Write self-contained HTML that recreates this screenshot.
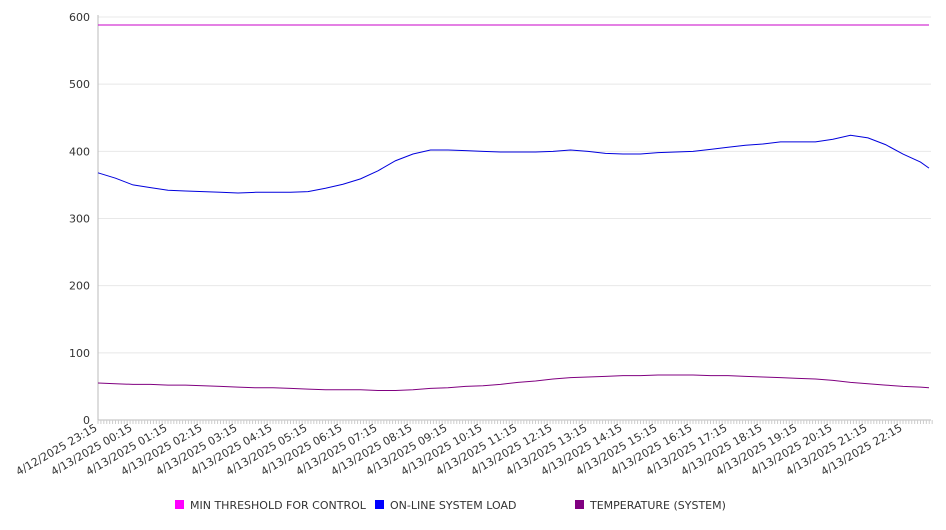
<!DOCTYPE html>
<html><head><meta charset="utf-8"><style>
body{margin:0;background:#fff;font-family:"DejaVu Sans","Liberation Sans",sans-serif}
svg text{font-family:"DejaVu Sans","Liberation Sans",sans-serif;fill:#333;font-size:11px}
</style></head><body>
<svg id="chart" width="946" height="526" xmlns="http://www.w3.org/2000/svg"></svg>
<script>
const hourLabels=["4/12/2025 23:15","4/13/2025 00:15","4/13/2025 01:15","4/13/2025 02:15","4/13/2025 03:15","4/13/2025 04:15","4/13/2025 05:15","4/13/2025 06:15","4/13/2025 07:15","4/13/2025 08:15","4/13/2025 09:15","4/13/2025 10:15","4/13/2025 11:15","4/13/2025 12:15","4/13/2025 13:15","4/13/2025 14:15","4/13/2025 15:15","4/13/2025 16:15","4/13/2025 17:15","4/13/2025 18:15","4/13/2025 19:15","4/13/2025 20:15","4/13/2025 21:15","4/13/2025 22:15"];
const yTicks=[0,100,200,300,400,500,600];
const loadValues=[368,360,350,346,342,341,340,339,338,339,339,339,340,345,351,359,371,386,396,402,402,401,400,399,399,399,400,402,400,397,396,396,398,399,400,403,406,409,411,414,414,414,418,424,420,410,396,384,375];
const tempValues=[55,54,53,53,52,52,51,50,49,48,48,47,46,45,45,45,44,44,45,47,48,50,51,53,56,58,61,63,64,65,66,66,67,67,67,66,66,65,64,63,62,61,59,56,54,52,50,49,48];
const thresholdValues=new Array(49).fill(588);
const S="http://www.w3.org/2000/svg",svg=document.getElementById('chart');
const X0=98,X1=931,Y0=420,Y1=17;
const xh=h=>X0+h*35;
const xi=i=>i<48?xh(i*0.5):X1-2;
const y=v=>Y0-(v/600)*(Y0-Y1);
function el(t,a,p){const e=document.createElementNS(S,t);for(const k in a)e.setAttribute(k,a[k]);(p||svg).appendChild(e);return e;}
yTicks.forEach(v=>{
 const g=el('line',{x1:X0,x2:X1,y1:y(v),y2:y(v),stroke:v===0?'#bbb':'#e8e8e8'});
 
 
 const t=el('text',{x:90,y:y(v)+4,'text-anchor':'end'});t.textContent=v;
 
 
});
const ax=el('line',{x1:X0,x2:X0,y1:Y1-2,y2:Y0,stroke:'#bbb'});


for(let m=0;m<=1430;m+=5){const tk=el('line',{x1:xh(m/60),x2:xh(m/60),y1:Y0,y2:Y0+4,stroke:'#ccc'});
 
 }
hourLabels.forEach((l,i)=>{
 const t=el('text',{x:xh(i),y:Y0+10,'text-anchor':'end',transform:`rotate(-30 ${xh(i)} ${Y0+10})`});t.textContent=l;
 
 
});
function series(vals,color,name){
 const p=el('polyline',{points:vals.map((v,i)=>xi(i)+','+y(v)).join(' '),fill:'none',stroke:color,'stroke-width':1});
 
 
}
series(thresholdValues,'#c800c8','threshold-line');
series(loadValues,'#0000dd','system-load-line');
series(tempValues,'#800080','temperature-line');
const legend=[["MIN THRESHOLD FOR CONTROL","#ff00ff",175],["ON-LINE SYSTEM LOAD","#0000ff",375],["TEMPERATURE (SYSTEM)","#800080",575]];
legend.forEach(([n,c,x])=>{
 const g=el('g',{});
 
 
 el('rect',{x:x,y:500,width:9,height:9,fill:c},g);
 const t=el('text',{x:x+15,y:509},g);t.textContent=n;
});
</script>
</body></html>
